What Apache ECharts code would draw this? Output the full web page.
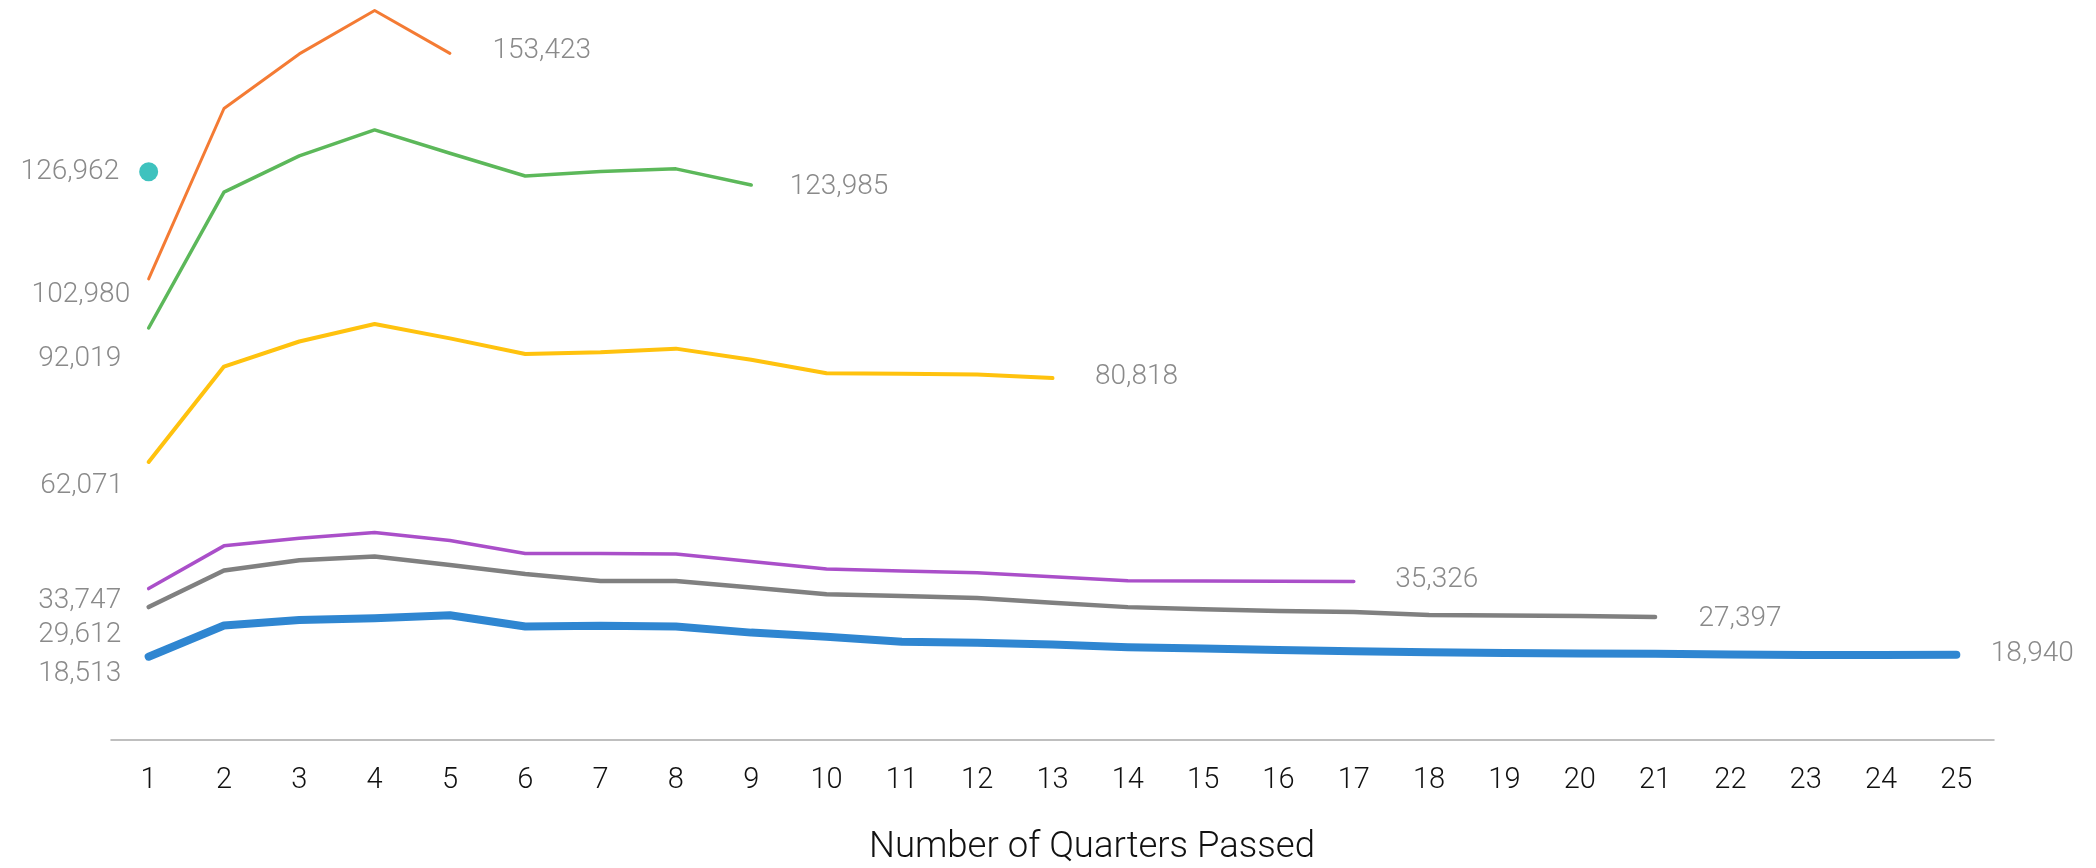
<!DOCTYPE html>
<html>
<head>
<meta charset="utf-8">
<script src="https://cdn.jsdelivr.net/npm/echarts@6/dist/echarts.min.js"></script>
<style>
  html, body { margin: 0; padding: 0; background: #ffffff; }
  #chart { width: 2096px; height: 868px; }
</style>
</head>
<body>
<div id="chart"></div>
<script>
// Quarter numbers along the x axis
const quarters = ['1','2','3','4','5','6','7','8','9','10','11','12','13','14','15','16','17','18','19','20','21','22','23','24','25'];

// One line per cohort; each cohort has been followed for a different number of quarters
const cohortA = [102980, 141100, 153300, 163000, 153423];
const cohortB = [92019, 122400, 130500, 136300, 131100, 126000, 127000, 127600, 123985];
const cohortC = [62071, 83400, 89000, 92900, 89700, 86200, 86600, 87400, 84900, 81900, 81800, 81600, 80818];
const cohortD = [33747, 43300, 45000, 46300, 44500, 41600, 41600, 41500, 39800, 38100, 37700, 37300, 36400, 35500, 35450, 35400, 35326];
const cohortE = [29612, 37800, 40100, 40900, 39000, 37000, 35450, 35450, 34000, 32500, 32100, 31650, 30600, 29600, 29100, 28750, 28500, 27850, 27750, 27600, 27397];
const cohortF = [18513, 25500, 26700, 27100, 27800, 25250, 25450, 25250, 23900, 23000, 21850, 21650, 21250, 20650, 20350, 20000, 19750, 19500, 19350, 19250, 19150, 19000, 18880, 18870, 18940];
const cohortG = [126962];

const FONT = 'Roboto, "Liberation Sans", sans-serif';

// 126962 -> "126,962"
function withCommas(n) {
  return String(Math.round(n)).replace(/\B(?=(\d{3})+(?!\d))/g, ',');
}

const valueLabel = {
  show: true,
  color: '#8a8a8a',
  fontFamily: FONT,
  fontWeight: 300,
  fontSize: 28,
  verticalAlign: 'middle',
  formatter: function (p) {
    const v = Array.isArray(p.value) ? p.value[1] : p.value;
    return withCommas(v);
  }
};

// Attach a value label to the first and last point of a cohort line
function labelled(values, startOffset, endOffset) {
  return values.map(function (v, i) {
    if (i === 0) {
      return { value: v, label: Object.assign({}, valueLabel, { position: startOffset, align: 'right' }) };
    }
    if (i === values.length - 1) {
      return { value: v, label: Object.assign({}, valueLabel, { position: endOffset, align: 'left' }) };
    }
    return v;
  });
}

function cohortLine(values, color, width, startOffset, endOffset) {
  return {
    type: 'line',
    data: labelled(values, startOffset, endOffset),
    symbol: 'circle',
    symbolSize: 1,
    showSymbol: true,
    showAllSymbol: true,
    itemStyle: { color: 'rgba(0,0,0,0)', borderWidth: 0 },
    lineStyle: { color: color, width: width, cap: 'round', join: 'round' },
    label: { show: false },
    silent: true,
    clip: false
  };
}

const chart = echarts.init(document.getElementById('chart'));
chart.setOption({
  animation: false,
  backgroundColor: '#ffffff',
  grid: { left: 111, right: 102, top: 1.6, bottom: 128.5, containLabel: false },
  xAxis: {
    type: 'category',
    data: quarters,
    boundaryGap: true,
    axisLine: { show: true, lineStyle: { color: '#ababab', width: 1.5 } },
    axisTick: { show: false },
    axisLabel: { color: '#111111', fontFamily: FONT, fontWeight: 300, fontSize: 29, margin: 27, interval: 0 },
    splitLine: { show: false }
  },
  yAxis: {
    type: 'value',
    min: 0,
    max: 165000,
    show: false,
    splitLine: { show: false }
  },
  graphic: [{
    type: 'text',
    x: 1092,
    y: 848,
    style: {
      text: 'Number of Quarters Passed',
      fill: '#111111',
      font: '300 36.5px ' + FONT,
      align: 'center',
      verticalAlign: 'middle'
    }
  }],
  series: [
    cohortLine(cohortA, '#f47b34', 3, [-18, 17], [43, -2]),
    cohortLine(cohortB, '#5cb85a', 3.5, [-27, 32], [39, 2]),
    cohortLine(cohortC, '#ffc20e', 4, [-25, 25], [43, -1]),
    cohortLine(cohortD, '#aa4fc9', 3.5, [-27, 13], [42, -1]),
    cohortLine(cohortE, '#808080', 4.5, [-27, 28], [44, 3]),
    cohortLine(cohortF, '#2f86d1', 8, [-27, 18], [35, 0]),
    {
      type: 'scatter',
      data: cohortG.map(function (v) {
        return { value: [0, v], label: Object.assign({}, valueLabel, { position: [-20, 10], align: 'right' }) };
      }),
      symbol: 'circle',
      symbolSize: 19,
      itemStyle: { color: '#3ec2be', opacity: 1 },
      silent: true
    }
  ]
});
</script>
</body>
</html>
